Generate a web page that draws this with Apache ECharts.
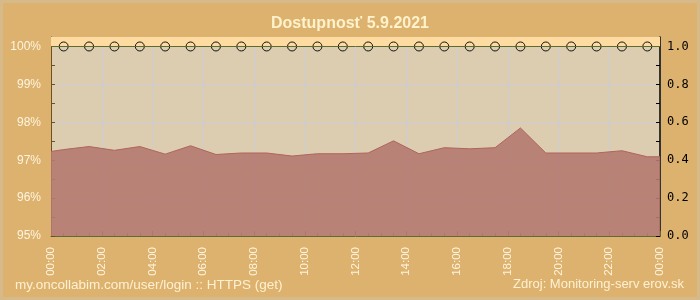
<!DOCTYPE html>
<html><head><meta charset="utf-8">
<script src="https://cdn.jsdelivr.net/npm/echarts@6/dist/echarts.min.js"></script>
<style>
html,body{margin:0;padding:0;}
#frame{width:694px;height:294px;border:3px solid #D7BA8A;background:#DCB26E;position:relative;}
#c{width:700px;height:300px;position:absolute;left:-3px;top:-3px;}
</style></head>
<body><div id="frame"><div id="c"></div></div>
<script>
const titleText = 'Dostupnosť 5.9.2021';
const footerLeft = 'my.oncollabim.com/user/login :: HTTPS (get)';
const footerRight = 'Zdroj: Monitoring-serv erov.sk';
const times = [0, 0.5, 1.5, 2.5, 3.5, 4.5, 5.5, 6.5, 7.5, 8.5, 9.5, 10.5, 11.5, 12.5, 13.5, 14.5, 15.5, 16.5, 17.5, 18.5, 19.5, 20.5, 21.5, 22.5, 23.5, 24];
const availability = [97.23, 97.28, 97.36, 97.26, 97.36, 97.16, 97.38, 97.15, 97.19, 97.19, 97.11, 97.17, 97.17, 97.19, 97.51, 97.17, 97.33, 97.30, 97.33, 97.85, 97.19, 97.19, 97.19, 97.25, 97.09, 97.09];
const checkTimes = [0.5, 1.5, 2.5, 3.5, 4.5, 5.5, 6.5, 7.5, 8.5, 9.5, 10.5, 11.5, 12.5, 13.5, 14.5, 15.5, 16.5, 17.5, 18.5, 19.5, 20.5, 21.5, 22.5, 23.5];
const checkStatus = [1, 1, 1, 1, 1, 1, 1, 1, 1, 1, 1, 1, 1, 1, 1, 1, 1, 1, 1, 1, 1, 1, 1, 1];
const leftTicks = [95, 96, 97, 98, 99, 100];

const chart = echarts.init(document.getElementById('c'), null, {renderer: 'canvas'});
const cream = '#FFF4DE';
chart.setOption({
  animation: false,
  backgroundColor: 'transparent',
  title: {text: titleText, left: 'center', top: 11,
    textStyle: {color: '#FFF2CC', fontSize: 16, fontWeight: 'bold', fontFamily: 'Liberation Sans, Arial, sans-serif'}},
  grid: {left: 51, right: 40, top: 37, bottom: 64, show: true, backgroundColor: '#DCCDB1', borderWidth: 0},
  xAxis: {
    type: 'value', min: 0, max: 24, interval: 2,
    axisLine: {show: true, onZero: false, lineStyle: {color: '#5E6B36', width: 1}},
    axisTick: {show: true, inside: true, length: 5, lineStyle: {color: '#5E6B36'}},
    minorTick: {show: true, splitNumber: 4, length: 3, lineStyle: {color: '#5E6B36'}},
    splitLine: {show: true, lineStyle: {color: '#CBCCD4', width: 1}},
    axisLabel: {rotate: 90, margin: 11, color: cream, fontSize: 11.5, fontFamily: 'Liberation Sans, Arial, sans-serif',
      formatter: v => String(v % 24).padStart(2, '0') + ':00'}
  },
  yAxis: [{
    type: 'value', min: 95, max: 100.25, interval: 1, position: 'left',
    axisLine: {show: true, lineStyle: {color: '#6E5020', width: 1}},
    axisTick: {show: true, inside: true, length: 4, lineStyle: {color: '#6E5020'}},
    minorTick: {show: true, splitNumber: 2, length: 4, lineStyle: {color: '#6E5020'}},
    splitLine: {show: true, lineStyle: {color: '#CBCCD4', width: 1}},
    axisLabel: {margin: 10, color: cream, fontSize: 12, fontFamily: 'Liberation Sans, Arial, sans-serif',
      showMaxLabel: false, formatter: v => leftTicks.includes(v) ? v + '%' : ''}
  }, {
    type: 'value', min: 0, max: 1.05, interval: 0.2, position: 'right',
    axisLine: {show: true, lineStyle: {color: '#000', width: 1.5}},
    axisTick: {show: true, inside: true, length: 4, lineStyle: {color: '#000'}},
    minorTick: {show: true, splitNumber: 2, length: 4, lineStyle: {color: '#000'}},
    splitLine: {show: false},
    axisLabel: {margin: 7, color: '#000', fontSize: 12, fontFamily: 'DejaVu Sans Mono, monospace',
      showMaxLabel: false, formatter: v => v <= 1.0001 ? v.toFixed(1) : ''}
  }],
  series: [{
    type: 'line', yAxisIndex: 0, z: 2,
    data: times.map((t, i) => [t, availability[i]]),
    symbol: 'none',
    lineStyle: {color: '#B0645C', width: 1},
    areaStyle: {origin: 'start', color: 'rgba(181,122,113,0.9)', opacity: 1}
  }, {
    type: 'line', yAxisIndex: 1, z: 3,
    data: checkTimes.map((t, i) => [t, checkStatus[i]]),
    symbol: 'circle', symbolSize: 9,
    itemStyle: {color: 'rgba(0,0,0,0)', borderColor: '#111', borderWidth: 1},
    lineStyle: {opacity: 0},
    markArea: {silent: true, itemStyle: {color: '#FEDCA1'}, data: [[{yAxis: 1}, {yAxis: 1.05}]]},
    markLine: {silent: true, symbol: 'none', label: {show: false},
      lineStyle: {color: '#5E6B2E', width: 1, type: 'solid'}, data: [{yAxis: 1}]}
  }],
  graphic: [
    {type: 'text', left: 15, top: 278, style: {text: footerLeft, fill: '#FFF0D2', font: '13.5px Liberation Sans, Arial, sans-serif'}},
    {type: 'text', right: 16, top: 278, style: {text: footerRight, fill: '#FFF0D2', font: '13px Liberation Sans, Arial, sans-serif'}}
  ]
});
</script></body></html>
